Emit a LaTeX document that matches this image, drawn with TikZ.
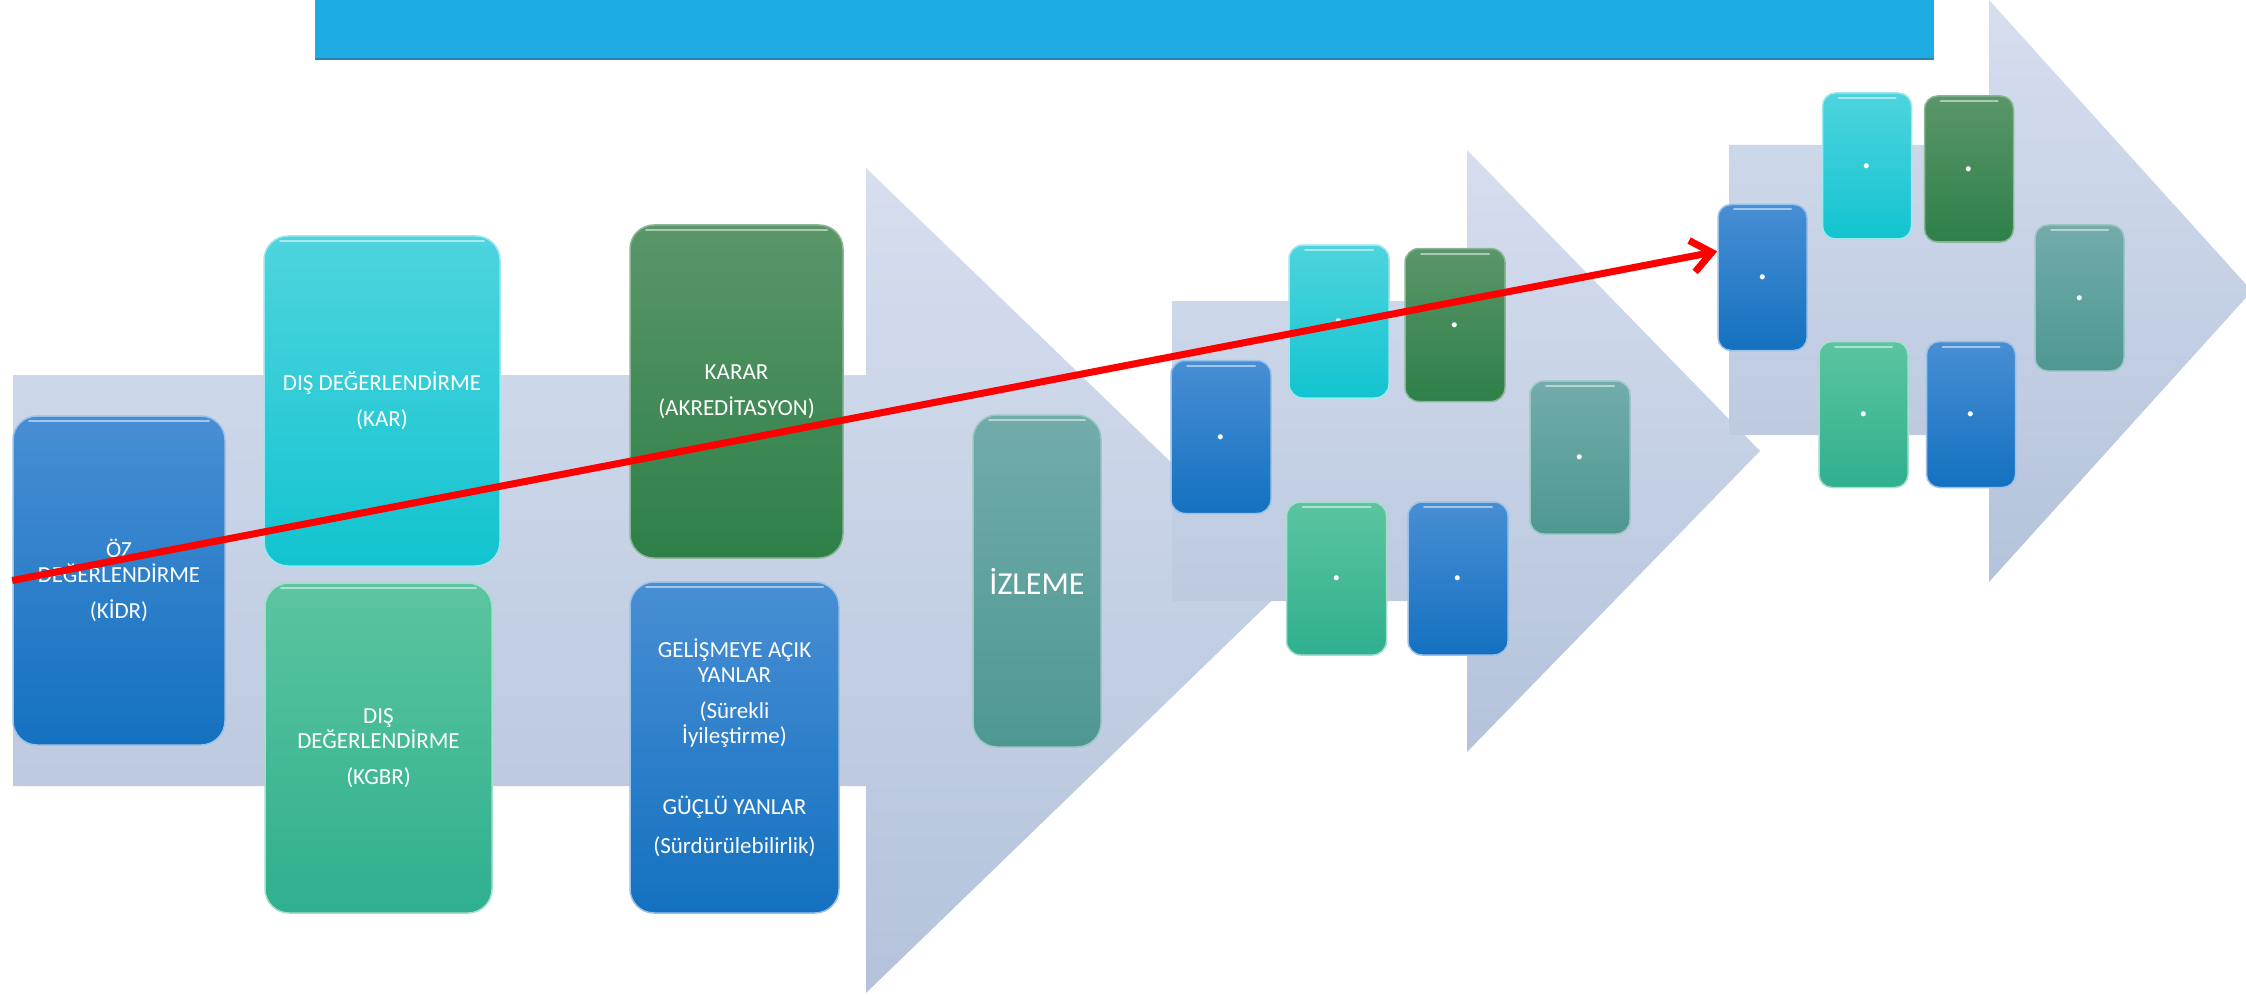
\documentclass[tikz,border=0pt]{standalone}
\usepackage{fontspec}
\setmainfont{Carlito}
\usetikzlibrary{arrows.meta}
\definecolor{barblue}{RGB}{30,171,227}
\definecolor{baredge}{RGB}{40,132,176}
\definecolor{arrowtop}{RGB}{214,222,239}
\definecolor{arrowbot}{RGB}{180,195,219}
\definecolor{bluetop}{RGB}{72,142,212}
\definecolor{bluebot}{RGB}{20,113,192}
\definecolor{cyantop}{RGB}{78,212,222}
\definecolor{cyanbot}{RGB}{18,196,208}
\definecolor{greentop}{RGB}{90,150,105}
\definecolor{greenbot}{RGB}{46,128,72}
\definecolor{minttop}{RGB}{92,196,160}
\definecolor{mintbot}{RGB}{47,176,142}
\definecolor{greytop}{RGB}{114,172,170}
\definecolor{greybot}{RGB}{78,152,145}
\definecolor{myred}{RGB}{255,0,0}

\begin{document}
\begin{tikzpicture}[x=1pt, y=-1pt,
    card/.style={inner sep=0pt, rounded corners=24pt, line width=1.5pt,
        text=white, align=center, font=\fontsize{23}{25}\selectfont,
        path picture={\draw[white, opacity=.5, line width=2pt, line cap=round]
            ([xshift=16pt, yshift=-5pt]path picture bounding box.north west) --
            ([xshift=-16pt, yshift=-5pt]path picture bounding box.north east);}},
    smallcard/.style={card, rounded corners=14pt, minimum width=100pt, minimum height=153pt,
        font=\fontsize{42}{44}\selectfont},
    tinycard/.style={card, rounded corners=13pt, minimum width=89pt, minimum height=146pt,
        font=\fontsize{42}{44}\selectfont},
    blueshade/.style={top color=bluetop, bottom color=bluebot, draw=bluetop!55!white},
    cyanshade/.style={top color=cyantop, bottom color=cyanbot, draw=cyantop!55!white},
    greenshade/.style={top color=greentop, bottom color=greenbot, draw=greentop!70!white},
    mintshade/.style={top color=minttop, bottom color=mintbot, draw=minttop!55!white},
    greyshade/.style={top color=greytop, bottom color=greybot, draw=greytop!70!white}]
    \clip (0,0) rectangle (2246,995);
    % Big arrows
    \shade[top color=arrowtop, bottom color=arrowbot] (13,375) -- (866,375) -- (866,168)
        -- (1293,580) -- (866,993) -- (866,786) -- (13,786) -- cycle;
    \shade[top color=arrowtop, bottom color=arrowbot] (1172,301) -- (1467,301) -- (1467,150)
        -- (1760,451) -- (1467,752) -- (1467,601) -- (1172,601) -- cycle;
    \shade[top color=arrowtop, bottom color=arrowbot] (1729,145) -- (1989,145) -- (1989,0)
        -- (2252,291) -- (1989,582) -- (1989,435) -- (1729,435) -- cycle;
    % Title bar
    \fill[barblue] (315,0) rectangle (1934,60);
    \draw[baredge, line width=2pt] (315,59) -- (1934,59);
    % First stage
    \node[card, blueshade, minimum width=212pt, minimum height=329pt] (oz) at (119,580.5)
        {ÖZ\\DEĞERLENDİRME\\[11pt](KİDR)};
    \node[card, cyanshade, minimum width=236pt, minimum height=330pt] (kar) at (382,401)
        {DIŞ DEĞERLENDİRME\\[11pt](KAR)};
    \node[card, mintshade, minimum width=227pt, minimum height=330pt] (kgbr) at (378.5,748)
        {DIŞ\\DEĞERLENDİRME\\[11pt](KGBR)};
    \node[card, greenshade, minimum width=213pt, minimum height=333pt] (karar) at (736.5,391.5)
        {KARAR\\[11pt](AKREDİTASYON)};
    \node[card, blueshade, minimum width=209pt, minimum height=331pt] (gelisme) at (734.5,747.5)
        {GELİŞMEYE AÇIK\\YANLAR\\[11pt](Sürekli\\İyileştirme)\\[46pt]GÜÇLÜ YANLAR\\[14pt](Sürdürülebilirlik)};
    \node[card, greyshade, minimum width=128pt, minimum height=332pt,
        font=\fontsize{32}{36}\selectfont] (izleme) at (1037,581) {İZLEME};
    % Second stage
    \node[smallcard, blueshade] (b1) at (1221,437) {.};
    \node[smallcard, cyanshade] (b2) at (1339,321.5) {.};
    \node[smallcard, greenshade] (b3) at (1455,325) {.};
    \node[smallcard, mintshade] (b4) at (1336.5,578.5) {.};
    \node[smallcard, blueshade] (b5) at (1458,578.5) {.};
    \node[smallcard, greyshade] (b6) at (1580,457.5) {.};
    % Third stage
    \node[tinycard, blueshade] (c1) at (1762.5,277.5) {.};
    \node[tinycard, cyanshade] (c2) at (1867,166) {.};
    \node[tinycard, greenshade] (c3) at (1969,169) {.};
    \node[tinycard, mintshade] (c4) at (1863.5,414.5) {.};
    \node[tinycard, blueshade] (c5) at (1971,414.5) {.};
    \node[tinycard, greyshade] (c6) at (2079.5,298) {.};
    % Red arrow
    \draw[myred, line width=7pt, -{Straight Barb[length=20pt, width=32pt]}] (oz.west) -- (c1.150);
\end{tikzpicture}
\end{document}
